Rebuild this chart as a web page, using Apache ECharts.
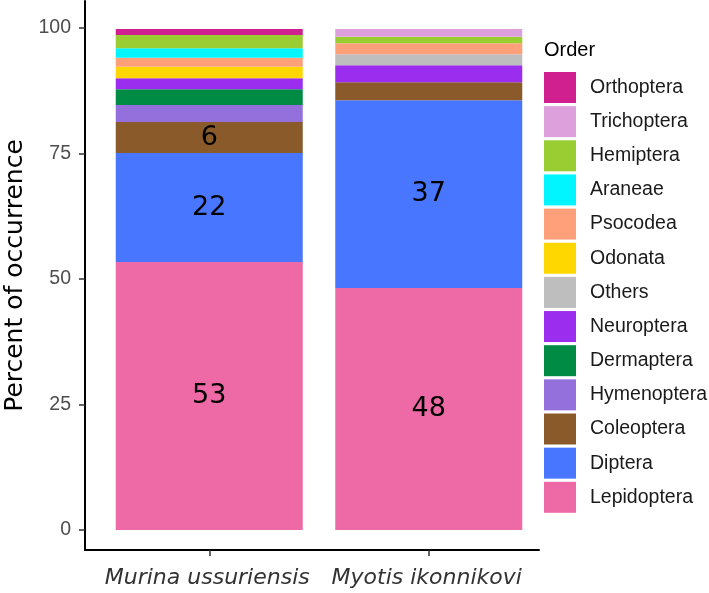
<!DOCTYPE html>
<html>
<head>
<meta charset="utf-8">
<script src="https://cdn.jsdelivr.net/npm/echarts@6/dist/echarts.min.js"></script>
<style>html,body{margin:0;padding:0;background:#fff}#c{width:709px;height:593px}</style>
</head>
<body>
<div id="c"></div>
<script>
// Stack order: bottom -> top
const species = ['Murina ussuriensis', 'Myotis ikonnikovi'];
const orders = ['Lepidoptera','Diptera','Coleoptera','Hymenoptera','Dermaptera','Neuroptera','Others','Odonata','Psocodea','Araneae','Hemiptera','Trichoptera','Orthoptera'];
const murinaValues = [53.4, 21.7, 6.2, 3.4, 3.1, 2.2, 0, 2.3, 1.8, 1.9, 2.6, 0, 1.2];
const myotisValues = [48.2, 37.4, 3.6, 0, 0, 3.4, 2.2, 0, 2.2, 0, 1.3, 1.5, 0];
const orderColors = ['#EE6AA7','#4876FF','#8B5A2B','#9370DB','#008B45','#9B2DEE','#BEBEBE','#FFD700','#FFA07A','#00F5FF','#9ACD32','#DDA0DD','#D0208F'];
const yTicks = [0, 25, 50, 75, 100];

const chart = echarts.init(document.getElementById('c'), null, {renderer: 'canvas'});

const series = orders.map((name, i) => ({
  name: name,
  type: 'bar',
  stack: 'total',
  xAxisIndex: 0,
  yAxisIndex: 0,
  barWidth: 187,
  itemStyle: {color: orderColors[i]},
  label: {
    show: true,
    position: 'inside',
    fontFamily: 'DejaVu Sans',
    fontSize: 27,
    color: '#000',
    formatter: p => (p.value >= 5 ? String(Math.round(p.value)) : '')
  },
  emphasis: {disabled: true},
  data: [murinaValues[i], myotisValues[i]]
}));

const yMin = -4, yMax = 105.4;

chart.setOption({
  animation: false,
  backgroundColor: '#fff',
  title: {
    text: 'Order',
    left: 544,
    top: 40,
    padding: 0,
    textStyle: {fontFamily: 'Liberation Sans', fontSize: 20, fontWeight: 'normal', color: '#000'}
  },
  legend: {
    orient: 'vertical',
    left: 544,
    top: 72,
    padding: 0,
    itemWidth: 32,
    itemHeight: 31,
    itemGap: 3.15,
    icon: 'rect',
    selectedMode: false,
    data: orders.slice().reverse(),
    textStyle: {fontFamily: 'Liberation Sans', fontSize: 19.5, color: '#1a1a1a', padding: [0, 0, 0, 9]}
  },
  grid: [
    {left: 99.5, right: 170.5, top: 1, bottom: 43, containLabel: false, outerBoundsMode: 'none'},
    {left: 85, right: 170, top: 1, bottom: 43, containLabel: false, outerBoundsMode: 'none'}
  ],
  xAxis: [
    {
      type: 'category',
      gridIndex: 0,
      data: species,
      axisLine: {show: false, onZero: false},
      axisTick: {show: true, interval: 0, alignWithLabel: true, length: 6, lineStyle: {color: '#333', width: 1.5}},
      axisLabel: {
        interval: 0,
        fontFamily: 'DejaVu Sans',
        fontStyle: 'italic',
        fontSize: 22,
        color: '#333',
        margin: 17,
        padding: [0, 4, 0, 0]
      }
    },
    {
      type: 'value',
      gridIndex: 1,
      min: 0, max: 1,
      splitLine: {show: false},
      axisLabel: {show: false},
      axisTick: {show: false},
      axisLine: {show: true, onZero: false, lineStyle: {color: '#000', width: 2}}
    }
  ],
  yAxis: [
    {
      type: 'value',
      gridIndex: 0,
      min: yMin,
      max: yMax,
      offset: 14.5,
      splitLine: {show: false},
      name: 'Percent of occurrence',
      nameLocation: 'middle',
      nameGap: 56,
      nameTextStyle: {fontFamily: 'DejaVu Sans', fontSize: 25, color: '#000'},
      axisLine: {show: true, onZero: false, lineStyle: {color: '#000', width: 2}},
      axisTick: {show: true, customValues: yTicks, length: 6, lineStyle: {color: '#333', width: 1.5}},
      axisLabel: {
        customValues: yTicks,
        fontFamily: 'Liberation Sans',
        fontSize: 19.5,
        color: '#4d4d4d',
        margin: 14
      }
    },
    {
      type: 'value',
      gridIndex: 1,
      min: yMin,
      max: yMax,
      show: false
    }
  ],
  series: series
});
</script>
</body>
</html>
